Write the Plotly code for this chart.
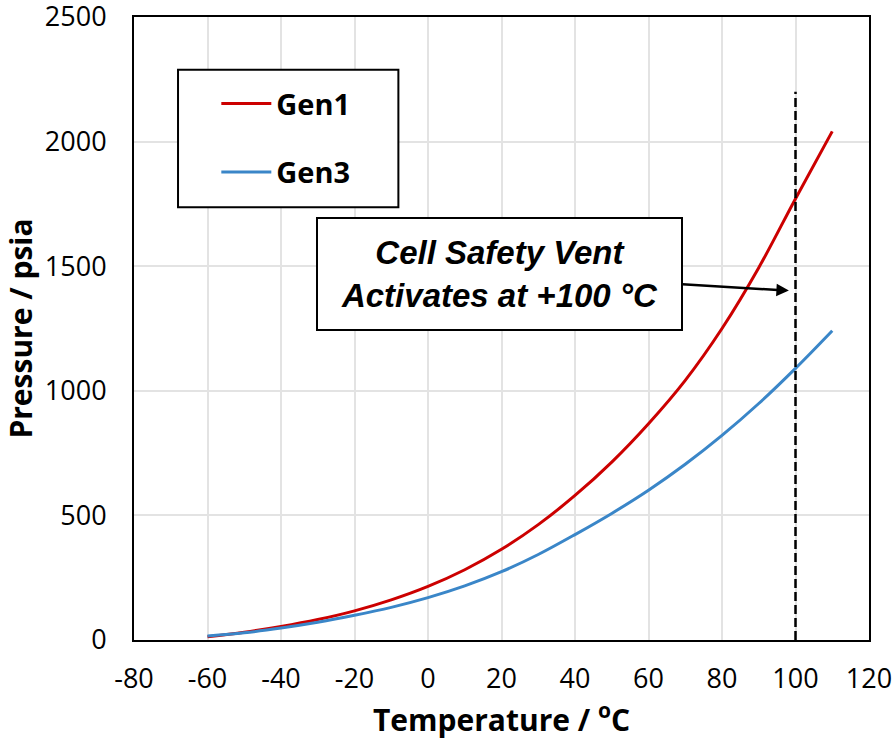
import plotly.graph_objects as go

temperature = [-60, -50, -40, -30, -20, -10, 0, 10, 20, 30, 40, 50, 60, 70, 80, 90, 100, 110]
gen1_pressure = [13, 31, 54, 82, 117, 161, 215, 282, 364, 463, 580, 714, 868, 1042, 1250, 1494, 1771, 2041]
gen3_pressure = [16, 29, 48, 71, 99, 131, 170, 217, 274, 343, 423, 508, 601, 705, 821, 949, 1090, 1241]
vent_temp = [100, 100]
vent_pressure = [0, 2200]

x_ticks = [-80, -60, -40, -20, 0, 20, 40, 60, 80, 100, 120]
y_ticks = [0, 500, 1000, 1500, 2000, 2500]

fig = go.Figure()
fig.add_trace(go.Scatter(x=temperature, y=gen1_pressure, mode="lines", name="Gen1",
                         legendgroup="g1", line=dict(color="#cc0000", width=3, shape="spline")))
fig.add_trace(go.Scatter(x=temperature, y=gen3_pressure, mode="lines", name="Gen3",
                         legendgroup="g3", line=dict(color="#3a86c8", width=3, shape="spline")))
fig.add_trace(go.Scatter(x=vent_temp, y=vent_pressure, mode="lines", showlegend=False,
                         line=dict(color="black", width=2.5, dash="9px,4px")))

axis_font = dict(family="Open Sans", size=27, color="black")
title_font = dict(family="Open Sans", size=30, color="black")
fig.update_layout(
    width=894, height=741,
    margin=dict(l=134, r=25, t=17, b=101),
    paper_bgcolor="white", plot_bgcolor="white",
    showlegend=True,
    legend=dict(x=0.112, y=0.902, xanchor="left", yanchor="top",
                bgcolor="rgba(0,0,0,0)", borderwidth=0,
                font=dict(family="Open Sans", size=29, color="black", weight="bold"),
                tracegroupgap=28, itemwidth=50),
    xaxis=dict(range=[-80, 120], tickvals=x_ticks, ticktext=[str(v) for v in x_ticks],
               showgrid=True, gridcolor="#e3e3e3", gridwidth=2, zeroline=False,
               showline=True, mirror=True, linecolor="black", linewidth=2,
               ticks="outside", ticklen=14, tickcolor="rgba(0,0,0,0)",
               tickfont=axis_font, automargin=False, ticklabeloverflow="allow",
               title=dict(text="<b>Temperature / <sup>o</sup>C</b>", standoff=6,
                          font=title_font)),
    yaxis=dict(range=[0, 2500], tickvals=y_ticks, ticktext=[str(v) for v in y_ticks],
               showgrid=True, gridcolor="#e3e3e3", gridwidth=2, zeroline=False,
               showline=True, mirror=True, linecolor="black", linewidth=2,
               ticks="outside", ticklen=20, tickcolor="rgba(0,0,0,0)",
               tickfont=axis_font, automargin=False, ticklabeloverflow="allow",
               title=dict(text="<b>Pressure / psia</b>", standoff=4,
                          font=title_font)),
    shapes=[dict(type="rect", xref="paper", yref="paper",
                 x0=0.0599, x1=0.3597, y0=0.6945, y1=0.9155,
                 line=dict(color="black", width=2), fillcolor="white", layer="above")],
    annotations=[dict(x=98.2, y=1402, xref="x", yref="y", ax=-289, ay=-17,
                      text="<b><i>Cell Safety Vent<br>Activates at +100 °C</i></b>",
                      font=dict(family="Liberation Sans", size=33, color="black"),
                      showarrow=True, arrowhead=2, arrowsize=1, arrowwidth=2.5,
                      arrowcolor="black", standoff=0,
                      bgcolor="white", bordercolor="black", borderwidth=2,
                      borderpad=4, width=355, height=102)],
)

fig.write_html("out.html")
